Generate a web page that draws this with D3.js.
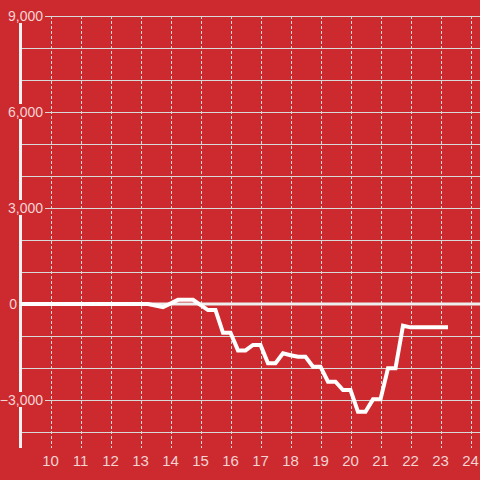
<!DOCTYPE html>
<html><head><meta charset="utf-8">
<script src="https://cdn.jsdelivr.net/npm/d3@7"></script>
<style>html,body{margin:0;padding:0;background:#cc2a2f;}svg{display:block;}</style>
</head><body>
<svg id="c" width="480" height="480"></svg>
<script>
const hours = [9, 13.25, 13.75, 14.25, 14.75, 15.25, 15.5, 15.75, 16, 16.25, 16.5, 16.75, 17, 17.25, 17.5, 17.75, 18, 18.25, 18.5, 18.75, 19, 19.25, 19.5, 19.75, 20, 20.25, 20.5, 20.75, 21, 21.25, 21.5, 21.75, 22, 23.25];
const values = [0, 0, -100, 130, 130, -190, -190, -900, -900, -1450, -1450, -1280, -1280, -1850, -1850, -1540, -1600, -1650, -1650, -1960, -1960, -2430, -2430, -2690, -2690, -3370, -3370, -2980, -2980, -2010, -2010, -680, -730, -730];
const xTicks = [10, 11, 12, 13, 14, 15, 16, 17, 18, 19, 20, 21, 22, 23, 24];
const yGrid = [-4000, -3000, -2000, -1000, 1000, 2000, 3000, 4000, 5000, 6000, 7000, 8000, 9000];
const yLabels = [-3000, 0, 3000, 6000, 9000];

const bg = "#cc2a2f", txt = "#f3d3d3", grid = "#d9d9d9";
const svg = d3.select("#c");
const x = d3.scaleLinear().domain([9, 25]).range([20.5, 500.5]);
const y = d3.scaleLinear().domain([-4500, 9000]).range([448, 16]);
const fmt = d3.format(",");
const font = "14px 'Liberation Sans', Arial, sans-serif";

svg.append("rect").attr("width", 480).attr("height", 480).attr("fill", bg);

// horizontal grid
svg.append("g").selectAll("line").data(yGrid).join("line")
  .attr("x1", 22).attr("x2", 480)
  .attr("y1", d => Math.round(y(d)) + 0.5).attr("y2", d => Math.round(y(d)) + 0.5)
  .attr("stroke", grid).attr("stroke-width", 1);

// vertical dashed grid
svg.append("g").selectAll("line").data(xTicks).join("line")
  .attr("x1", d => Math.round(x(d)) + 0.5).attr("x2", d => Math.round(x(d)) + 0.5)
  .attr("y1", 16).attr("y2", 448)
  .attr("stroke", grid).attr("stroke-width", 1).attr("stroke-dasharray", "3,2");

// y axis line
svg.append("line").attr("x1", 20.5).attr("x2", 20.5).attr("y1", 16).attr("y2", 448)
  .attr("stroke", "#f2f2f2").attr("stroke-width", 3);

// zero line
svg.append("line").attr("x1", 19).attr("x2", 480).attr("y1", y(0)).attr("y2", y(0))
  .attr("stroke", "#eeeeee").attr("stroke-width", 3);

// y labels with background
const yl = svg.append("g").selectAll("g").data(yLabels).join("g");
yl.each(function(d) {
  const g = d3.select(this);
  const t = g.append("text").attr("x", d === 0 ? 17 : 43).attr("y", y(d)).attr("dy", "0.35em")
    .attr("text-anchor", "end").attr("fill", txt)
    .style("font", font).text(fmt(d));
  const b = t.node().getBBox();
  if (d !== 0) {
    const rx = Math.max(0, b.x - 2);
    g.insert("rect", "text").attr("x", rx).attr("y", y(d) - 8).attr("width", 45 - rx).attr("height", 15)
      .attr("fill", bg);
  }
});

// x labels
svg.append("g").selectAll("text").data(xTicks).join("text")
  .attr("x", d => x(d)).attr("y", 466).attr("text-anchor", "middle").attr("fill", txt)
  .style("font", "15px 'Liberation Sans', Arial, sans-serif").text(d => d);

// data line
const pts = hours.map((h, i) => [h, values[i]]);
svg.append("path").datum(pts)
  .attr("d", d3.line().x(d => x(d[0])).y(d => y(d[1])))
  .attr("fill", "none").attr("stroke", "#ffffff").attr("stroke-width", 4)
  .attr("stroke-linejoin", "miter");
</script>
</body></html>
